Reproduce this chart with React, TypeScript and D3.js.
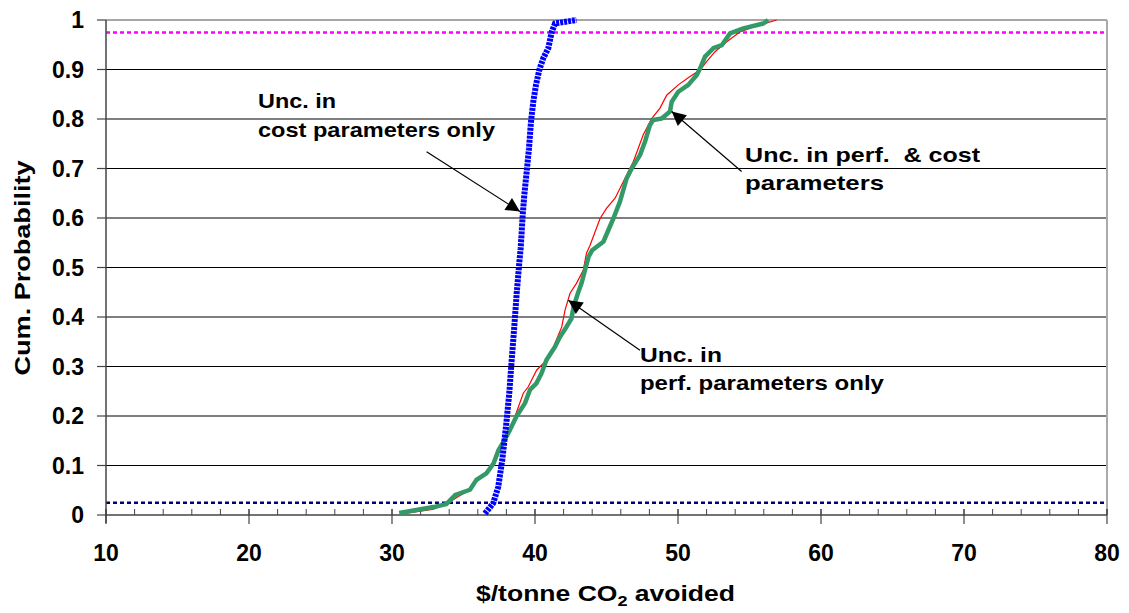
import React from "react";
import * as d3 from "d3";

// Cumulative distributions of CO2 avoidance cost ($/tonne)
const costOnlyCost = [36.5, 37.08, 37.43, 37.71, 37.97, 38.2, 38.37, 38.55, 38.72, 38.9, 39.0, 39.14, 39.25, 39.42, 39.58, 39.72, 39.88, 40.07, 40.3, 40.58, 40.93, 41.17, 41.4, 42.9];
const costOnlyProb = [0.003, 0.024, 0.057, 0.111, 0.178, 0.246, 0.313, 0.38, 0.448, 0.509, 0.539, 0.606, 0.646, 0.694, 0.741, 0.795, 0.835, 0.869, 0.899, 0.923, 0.943, 0.976, 0.993, 1.0];

const perfCostCost = [30.5, 31.7, 32.9, 33.8, 34.4, 35.45, 35.9, 36.6, 37.1, 37.45, 37.8, 38.25, 38.7, 39.3, 39.65, 40.1, 40.45, 40.8, 41.4, 41.75, 42.2, 42.55, 42.7, 43.0, 43.25, 43.5, 43.75, 44.0, 44.78, 45.48, 45.94, 46.41, 46.76, 47.34, 47.69, 48.04, 48.27, 48.86, 49.44, 49.56, 50.02, 50.72, 51.31, 51.54, 51.89, 52.47, 53.06, 53.64, 54.57, 55.97, 56.3];
const perfCostProb = [0.004, 0.01, 0.016, 0.022, 0.04, 0.051, 0.071, 0.084, 0.104, 0.131, 0.148, 0.172, 0.199, 0.226, 0.253, 0.266, 0.286, 0.313, 0.34, 0.36, 0.38, 0.397, 0.421, 0.448, 0.468, 0.495, 0.522, 0.535, 0.552, 0.599, 0.633, 0.68, 0.7, 0.727, 0.754, 0.788, 0.798, 0.801, 0.815, 0.835, 0.855, 0.869, 0.889, 0.902, 0.926, 0.943, 0.949, 0.973, 0.983, 0.993, 1.0];

const perfOnlyCost = [30.9, 32.0, 32.9, 33.8, 34.5, 35.2, 35.8, 36.85, 37.55, 38.25, 38.6, 39.18, 39.53, 40.12, 40.58, 41.05, 41.4, 41.87, 42.1, 42.45, 42.9, 43.38, 43.6, 43.85, 44.55, 45.01, 45.6, 46.53, 46.88, 47.57, 48.16, 48.74, 49.21, 50.02, 50.84, 51.54, 52.0, 52.59, 53.41, 54.34, 55.27, 56.9];
const perfOnlyProb = [0.003, 0.008, 0.012, 0.022, 0.035, 0.047, 0.064, 0.091, 0.131, 0.168, 0.199, 0.246, 0.259, 0.293, 0.306, 0.32, 0.347, 0.38, 0.414, 0.448, 0.468, 0.495, 0.529, 0.545, 0.599, 0.62, 0.64, 0.694, 0.714, 0.768, 0.801, 0.822, 0.848, 0.869, 0.886, 0.899, 0.916, 0.936, 0.956, 0.976, 0.986, 1.0];

const xTicks = [10, 20, 30, 40, 50, 60, 70, 80];
const xMinorTicks = d3.range(10, 80.01, 2);
const yTicks = [0, 0.1, 0.2, 0.3, 0.4, 0.5, 0.6, 0.7, 0.8, 0.9, 1];
const yTickLabels = ["0", "0.1", "0.2", "0.3", "0.4", "0.5", "0.6", "0.7", "0.8", "0.9", "1"];
const lowerBound = 0.025;
const upperBound = 0.975;

const FONT = "'Liberation Sans', Arial, Helvetica, sans-serif";

type Pt = [number, number];
const zip = (a: number[], b: number[]): Pt[] => a.map((v, i) => [v, b[i]]);

export default function App() {
  const W = 1129;
  const H = 613;
  const x = d3.scaleLinear().domain([10, 80]).range([106, 1107]);
  const y = d3.scaleLinear().domain([0, 1]).range([515, 20]);
  const line = d3
    .line<Pt>()
    .x((d) => x(d[0]))
    .y((d) => y(d[1]));

  const arrows = [
    { from: [32.42, 0.734], to: [38.95, 0.613] },
    { from: [54.45, 0.694], to: [49.56, 0.815] },
    { from: [47.34, 0.333], to: [42.33, 0.434] },
  ];

  const notes = [
    { text: "Unc. in", x: 20.63, y: 0.823, len: 78 },
    { text: "cost parameters only", x: 20.63, y: 0.764, len: 237 },
    { text: "Unc. in perf.  & cost", x: 54.69, y: 0.713, len: 235 },
    { text: "parameters", x: 54.69, y: 0.656, len: 139 },
    { text: "Unc. in", x: 47.34, y: 0.31, len: 82 },
    { text: "perf. parameters only", x: 47.34, y: 0.252, len: 244 },
  ];

  return (
    <svg
      width={W}
      height={H}
      style={{ position: "absolute", left: 0, top: 0, background: "#fff" }}
      fontFamily={FONT}
    >
      <defs>
        <marker id="head" viewBox="0 0 10 10" refX="10" refY="5" markerWidth="16" markerHeight="14" markerUnits="userSpaceOnUse" orient="auto">
          <path d="M0,0 L10,5 L0,10 z" fill="#000" />
        </marker>
      </defs>

      {/* horizontal gridlines */}
      {yTicks.slice(1, -1).map((t) => (
        <line key={"g" + t} x1={x(10)} x2={x(80)} y1={y(t)} y2={y(t)} stroke="#000" strokeWidth={1.2} />
      ))}
      {/* plot frame top and right */}
      <line x1={x(10)} x2={x(80)} y1={y(1)} y2={y(1)} stroke="#888" strokeWidth={1.5} />
      <line x1={x(80)} x2={x(80)} y1={y(1)} y2={y(0)} stroke="#aaa" strokeWidth={2} />

      {/* 2.5% and 97.5% reference levels */}
      <line x1={x(10)} x2={x(80)} y1={y(upperBound)} y2={y(upperBound)} stroke="#ff00ff" strokeWidth={2.5} strokeDasharray="4 3" />
      <line x1={x(10)} x2={x(80)} y1={y(lowerBound)} y2={y(lowerBound)} stroke="#000080" strokeWidth={2.5} strokeDasharray="4 3" />

      {/* axes */}
      <line x1={x(10)} x2={x(80)} y1={y(0)} y2={y(0)} stroke="#444" strokeWidth={1.5} />
      <line x1={x(10)} x2={x(10)} y1={y(1)} y2={y(0) + 8} stroke="#444" strokeWidth={1.5} />
      {xMinorTicks.map((t) => (
        <line key={"m" + t} x1={x(t)} x2={x(t)} y1={y(0) - 6} y2={y(0)} stroke="#444" strokeWidth={1} />
      ))}
      {xTicks.map((t) => (
        <line key={"xt" + t} x1={x(t)} x2={x(t)} y1={y(0) - 6} y2={y(0) + 9} stroke="#444" strokeWidth={1.2} />
      ))}
      {yTicks.map((t) => (
        <line key={"yt" + t} x1={x(10) - 9} x2={x(10)} y1={y(t)} y2={y(t)} stroke="#444" strokeWidth={1.2} />
      ))}

      {/* tick labels */}
      {yTicks.map((t, i) => (
        <text key={"yl" + t} x={84} y={y(t)} dy="0.36em" textAnchor="end" fontSize={23} fontWeight="bold">
          {yTickLabels[i]}
        </text>
      ))}
      {xTicks.map((t) => (
        <text key={"xl" + t} x={x(t)} y={561} textAnchor="middle" fontSize={23} fontWeight="bold">
          {t}
        </text>
      ))}

      {/* axis titles */}
      <text x={476} y={601} fontSize={22} fontWeight="bold" textLength={259} lengthAdjust="spacingAndGlyphs">
        $/tonne CO<tspan fontSize={15} dy={5}>2</tspan>
        <tspan dy={-5}> avoided</tspan>
      </text>
      <text transform="translate(30,268) rotate(-90)" textAnchor="middle" fontSize={22} fontWeight="bold" textLength={215} lengthAdjust="spacingAndGlyphs">
        Cum. Probability
      </text>

      {/* cumulative curves */}
      <path d={line(zip(perfOnlyCost, perfOnlyProb)) || ""} fill="none" stroke="#ff0000" strokeWidth={1.2} />
      <path d={line(zip(perfCostCost, perfCostProb)) || ""} fill="none" stroke="#339966" strokeWidth={4.5} strokeLinejoin="round" />
      <path d={line(zip(costOnlyCost, costOnlyProb)) || ""} fill="none" stroke="#0000ff" strokeWidth={6} strokeDasharray="3 1" />

      {/* annotations */}
      {arrows.map((a, i) => (
        <line key={"a" + i} x1={x(a.from[0])} y1={y(a.from[1])} x2={x(a.to[0])} y2={y(a.to[1])} stroke="#000" strokeWidth={1.2} markerEnd="url(#head)" />
      ))}
      {notes.map((n, i) => (
        <text key={"n" + i} x={x(n.x)} y={y(n.y)} fontSize={21} fontWeight="bold" textLength={n.len} lengthAdjust="spacingAndGlyphs" style={{ whiteSpace: "pre" }}>
          {n.text}
        </text>
      ))}
    </svg>
  );
}
